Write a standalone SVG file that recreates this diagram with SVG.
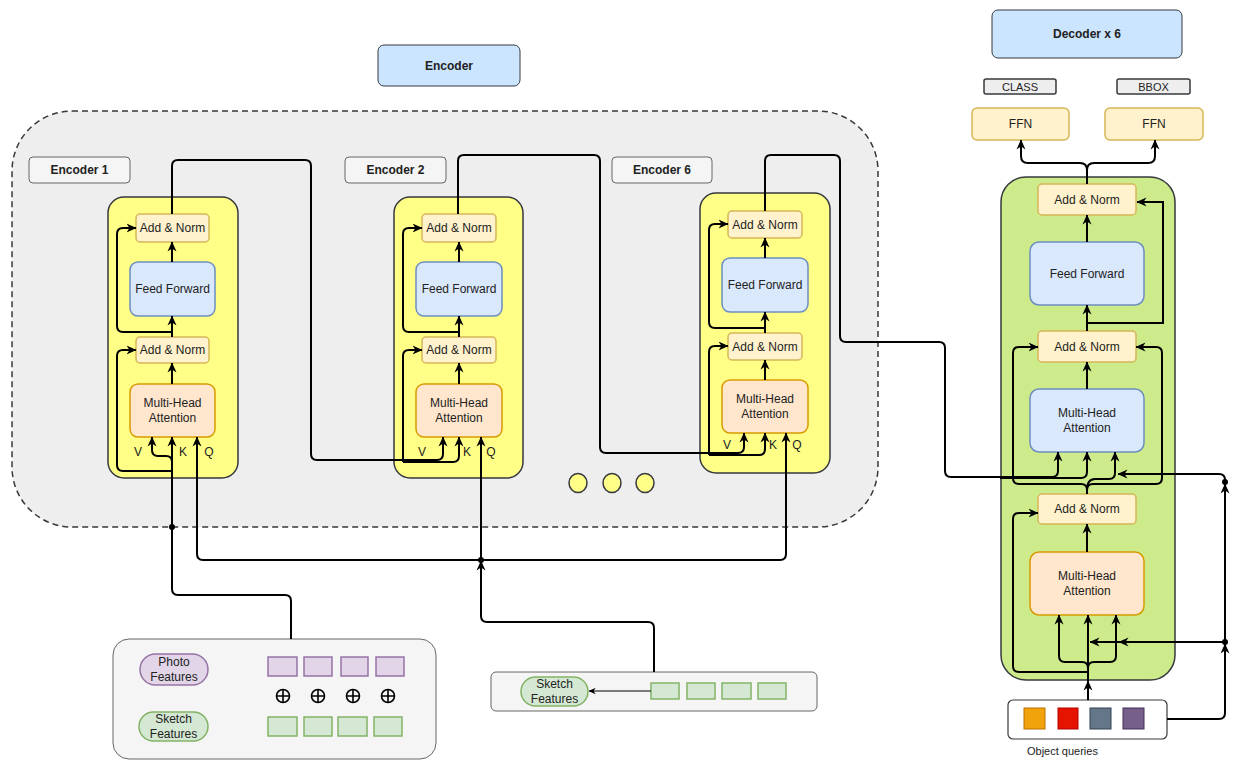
<svg xmlns="http://www.w3.org/2000/svg" width="1246" height="775" viewBox="0 0 1246 775">
<defs>
<marker id="a" viewBox="0 0 10 10" refX="9.5" refY="5" markerWidth="10" markerHeight="10" orient="auto" markerUnits="userSpaceOnUse"><path d="M0,0.5 L10,5 L0,9.5 L3,5 Z" fill="#000"/></marker>
<marker id="s" viewBox="0 0 10 10" refX="9.5" refY="5" markerWidth="7" markerHeight="7" orient="auto" markerUnits="userSpaceOnUse"><path d="M0,0.5 L10,5 L0,9.5 L3,5 Z" fill="#000"/></marker>
<style>
.t{font-family:"Liberation Sans",Arial,sans-serif;font-size:12px;fill:#222;text-anchor:middle;dominant-baseline:central}
.b{font-weight:bold}
.c{fill:none;stroke:#000;stroke-width:2;marker-end:url(#a)}
.n{fill:none;stroke:#000;stroke-width:2}
.an{fill:#fff2cc;stroke:#d6b656;stroke-width:1.5}
.ff{fill:#dae8fc;stroke:#6c8ebf;stroke-width:1.5}
.mh{fill:#ffe6cc;stroke:#d79b00;stroke-width:1.5}
.yl{fill:#ffff88;stroke:#36393d;stroke-width:1.5}
.lb{fill:#f5f5f5;stroke:#666;stroke-width:1}
.pp{fill:#e1d5e7;stroke:#9673a6;stroke-width:1.5}
.gg{fill:#d5e8d4;stroke:#82b366;stroke-width:1.5}
.dot{fill:#000}
</style>
</defs>

<!-- containers -->
<g id="encoder-container"><rect x="12" y="111" width="866" height="416" rx="60" fill="#eeeeee" stroke="#36393d" stroke-width="1.5" stroke-dasharray="6 4"/></g>
<g id="encoder-title"><rect x="378" y="45" width="142" height="41" rx="6" fill="#cce5ff" stroke="#36393d"/><text class="t b" x="449" y="66">Encoder</text></g>
<g id="decoder-title"><rect x="992" y="10" width="190" height="48" rx="6" fill="#cce5ff" stroke="#36393d"/><text class="t b" x="1087" y="34">Decoder x 6</text></g>
<g id="label-enc1"><rect class="lb" x="29" y="157" width="101" height="26" rx="4"/><text class="t b" x="79.5" y="170" fill="#333">Encoder 1</text></g>
<g id="label-enc2"><rect class="lb" x="345" y="157" width="101" height="26" rx="4"/><text class="t b" x="395.5" y="170">Encoder 2</text></g>
<g id="label-enc6"><rect class="lb" x="612" y="157" width="100" height="26" rx="4"/><text class="t b" x="662" y="170">Encoder 6</text></g>

<!-- encoder 1 -->
<g id="enc1"><rect class="yl" x="108" y="197" width="130" height="281" rx="16"/></g>
<g id="enc1-an2"><rect class="an" x="136" y="214" width="73" height="28" rx="4"/><text class="t" x="172.5" y="228">Add &amp; Norm</text></g>
<g id="enc1-ff"><rect class="ff" x="130" y="262" width="85" height="54" rx="8"/><text class="t" x="172.5" y="289">Feed Forward</text></g>
<g id="enc1-an1"><rect class="an" x="136" y="337" width="73" height="26" rx="4"/><text class="t" x="172.5" y="350">Add &amp; Norm</text></g>
<g id="enc1-mha"><rect class="mh" x="130" y="384" width="85" height="53" rx="8"/><text class="t" x="172.5" y="403">Multi-Head</text><text class="t" x="172.5" y="418">Attention</text></g>
<g id="enc1-vkq"><text class="t" x="138" y="452">V</text><text class="t" x="183" y="452">K</text><text class="t" x="209" y="452">Q</text></g>

<!-- encoder 2 -->
<g id="enc2"><rect class="yl" x="394" y="197" width="129" height="281" rx="16"/></g>
<g id="enc2-an2"><rect class="an" x="422" y="214" width="74" height="28" rx="4"/><text class="t" x="459" y="228">Add &amp; Norm</text></g>
<g id="enc2-ff"><rect class="ff" x="416" y="262" width="86" height="54" rx="8"/><text class="t" x="459" y="289">Feed Forward</text></g>
<g id="enc2-an1"><rect class="an" x="422" y="337" width="74" height="26" rx="4"/><text class="t" x="459" y="350">Add &amp; Norm</text></g>
<g id="enc2-mha"><rect class="mh" x="416" y="384" width="86" height="53" rx="8"/><text class="t" x="459" y="403">Multi-Head</text><text class="t" x="459" y="418">Attention</text></g>
<g id="enc2-vkq"><text class="t" x="422" y="452">V</text><text class="t" x="467" y="452">K</text><text class="t" x="491" y="452">Q</text></g>

<!-- encoder 6 -->
<g id="enc6"><rect class="yl" x="700" y="193" width="130" height="280" rx="16"/></g>
<g id="enc6-an2"><rect class="an" x="728" y="211" width="74" height="27" rx="4"/><text class="t" x="765" y="224.5">Add &amp; Norm</text></g>
<g id="enc6-ff"><rect class="ff" x="722" y="258" width="86" height="54" rx="8"/><text class="t" x="765" y="285">Feed Forward</text></g>
<g id="enc6-an1"><rect class="an" x="728" y="333" width="74" height="27" rx="4"/><text class="t" x="765" y="346.5">Add &amp; Norm</text></g>
<g id="enc6-mha"><rect class="mh" x="722" y="380" width="86" height="53" rx="8"/><text class="t" x="765" y="399">Multi-Head</text><text class="t" x="765" y="414">Attention</text></g>
<g id="enc6-vkq"><text class="t" x="727" y="445">V</text><text class="t" x="773" y="445">K</text><text class="t" x="797" y="445">Q</text></g>

<g id="ellipsis"><ellipse class="yl" cx="578" cy="483" rx="9" ry="9.5" stroke-width="1"/><ellipse class="yl" cx="612" cy="483" rx="9" ry="9.5" stroke-width="1"/><ellipse class="yl" cx="645" cy="483" rx="9" ry="9.5" stroke-width="1"/></g>

<!-- decoder -->
<g id="decoder"><rect x="1001" y="177" width="174" height="503" rx="25" fill="#cdeb8b" stroke="#36393d" stroke-width="1.5"/></g>
<g id="dec-an3"><rect class="an" x="1038" y="184" width="98" height="31" rx="4"/><text class="t" x="1087" y="199.5">Add &amp; Norm</text></g>
<g id="dec-ff"><rect class="ff" x="1030" y="242" width="114" height="63" rx="9"/><text class="t" x="1087" y="273.5">Feed Forward</text></g>
<g id="dec-an2"><rect class="an" x="1038" y="331" width="98" height="31" rx="4"/><text class="t" x="1087" y="346.5">Add &amp; Norm</text></g>
<g id="dec-mha2"><rect class="ff" x="1030" y="389" width="114" height="63" rx="9"/><text class="t" x="1087" y="413">Multi-Head</text><text class="t" x="1087" y="428">Attention</text></g>
<g id="dec-an1"><rect class="an" x="1038" y="494" width="98" height="30" rx="4"/><text class="t" x="1087" y="509">Add &amp; Norm</text></g>
<g id="dec-mha1"><rect class="mh" x="1030" y="552" width="114" height="63" rx="9"/><text class="t" x="1087" y="576">Multi-Head</text><text class="t" x="1087" y="591">Attention</text></g>
<g id="ffn-class"><rect class="an" x="972" y="108" width="97" height="32" rx="5"/><text class="t" x="1020.5" y="124">FFN</text></g>
<g id="ffn-bbox"><rect class="an" x="1105" y="108" width="98" height="32" rx="5"/><text class="t" x="1154" y="124">FFN</text></g>
<g id="class"><rect x="984" y="79" width="72" height="15" rx="2" fill="#eeeeee" stroke="#36393d" stroke-width="1.5"/><text class="t" x="1020" y="86.5" style="font-size:11px">CLASS</text></g>
<g id="bbox"><rect x="1117" y="79" width="73" height="15" rx="2" fill="#eeeeee" stroke="#36393d" stroke-width="1.5"/><text class="t" x="1153.5" y="86.5" style="font-size:11px">BBOX</text></g>
<g id="object-queries"><rect x="1008" y="700" width="159" height="39" rx="5" fill="#fff" stroke="#36393d" stroke-width="1.2"/>
<rect x="1024" y="708" width="21" height="21" fill="#f0a30a" stroke="#bd7000"/>
<rect x="1058" y="708" width="20" height="21" fill="#e51400" stroke="#b20000"/>
<rect x="1090" y="708" width="21" height="21" fill="#647687" stroke="#314354"/>
<rect x="1123" y="708" width="21" height="21" fill="#76608a" stroke="#432d57"/>
<text class="t" x="1027" y="751" style="text-anchor:start;font-size:11px">Object queries</text></g>

<!-- features -->
<g id="photo-sketch-box"><rect class="lb" x="113" y="639" width="323" height="120" rx="16"/></g>
<g id="photo-features"><rect class="pp" x="140" y="654" width="68" height="31" rx="15.5"/><text class="t" x="174" y="662">Photo</text><text class="t" x="174" y="677">Features</text></g>
<g id="sketch-features-1"><rect class="gg" x="139" y="712" width="69" height="29" rx="14.5"/><text class="t" x="173.5" y="719">Sketch</text><text class="t" x="173.5" y="734">Features</text></g>
<g id="photo-tokens"><rect class="pp" x="268" y="657" width="29" height="19"/><rect class="pp" x="304" y="657" width="28" height="19"/><rect class="pp" x="341" y="657" width="27" height="19"/><rect class="pp" x="376" y="657" width="28" height="19"/></g>
<g id="plus-ops" fill="none" stroke="#000" stroke-width="1.6">
<circle cx="283" cy="696" r="6.5"/><path d="M276.5,696 H289.5 M283,689.5 V702.5"/>
<circle cx="318" cy="696" r="6.5"/><path d="M311.5,696 H324.5 M318,689.5 V702.5"/>
<circle cx="353" cy="696" r="6.5"/><path d="M346.5,696 H359.5 M353,689.5 V702.5"/>
<circle cx="388" cy="696" r="6.5"/><path d="M381.5,696 H394.5 M388,689.5 V702.5"/>
</g>
<g id="sketch-tokens-1"><rect class="gg" x="268" y="717" width="29" height="19"/><rect class="gg" x="304" y="717" width="28" height="19"/><rect class="gg" x="338" y="717" width="29" height="19"/><rect class="gg" x="374" y="717" width="28" height="19"/></g>

<g id="sketch-box"><rect class="lb" x="491" y="672" width="326" height="39" rx="5"/></g>
<g id="sketch-features-2"><rect class="gg" x="521" y="677" width="67" height="29" rx="14.5"/><text class="t" x="554.5" y="684">Sketch</text><text class="t" x="554.5" y="699">Features</text></g>
<g id="sketch-tokens-2"><rect class="gg" x="651" y="683" width="28" height="16"/><rect class="gg" x="687" y="683" width="28" height="16"/><rect class="gg" x="722" y="683" width="29" height="16"/><rect class="gg" x="758" y="683" width="28" height="16"/></g>

<!-- connectors -->
<g id="connectors">
<!-- encoder 1 internal -->
<path class="c" d="M172,384 V363"/>
<path class="c" d="M172,337 V316"/>
<path class="c" d="M172,262 V242"/>
<path class="c" d="M172,332 H123 Q117,332 117,326 V234 Q117,228 123,228 H136"/>
<path class="c" d="M172,471 H123 Q117,471 117,465 V356 Q117,350 123,350 H136"/>
<path class="c" d="M172,468 V462 Q172,456 166,456 H158 Q152,456 152,450 V437"/>
<path class="c" d="M291,639 V601 Q291,595 285,595 H178 Q172,595 172,589 V437"/>
<circle class="dot" cx="172" cy="527" r="3"/>
<!-- Q lines -->
<path class="c" d="M481,560 H203 Q197,560 197,554 V437"/>
<path class="c" d="M481,560 H780 Q786,560 786,554 V433"/>
<path class="c" d="M481,560 V437"/>
<path class="c" d="M654,672 V628 Q654,622 648,622 H487 Q481,622 481,616 V561"/>
<circle class="dot" cx="481" cy="560" r="3"/>
<path fill="none" stroke="#000" stroke-width="1" marker-end="url(#s)" d="M651,691 H589"/>
<!-- enc1 -> enc2 -->
<path class="c" d="M172,214 V166 Q172,160 178,160 H305 Q311,160 311,166 V454 Q311,460 317,460 H437 Q443,460 443,454 V437"/>
<path class="c" d="M403,462 H453 Q459,462 459,456 V437"/>
<path class="c" d="M403,462 V356 Q403,350 409,350 H422"/>
<path class="c" d="M459,384 V363"/>
<path class="c" d="M459,337 V316"/>
<path class="c" d="M459,262 V242"/>
<path class="c" d="M459,332 H409 Q403,332 403,326 V234 Q403,228 409,228 H422"/>
<!-- enc2 -> enc6 -->
<path class="c" d="M458,214 V161 Q458,155 464,155 H594 Q600,155 600,161 V447 Q600,453 606,453 H738 Q744,453 744,447 V433"/>
<path class="c" d="M709,455 H759 Q765,455 765,449 V433"/>
<path class="c" d="M709,455 V352 Q709,346 715,346 H728"/>
<path class="c" d="M765,380 V360"/>
<path class="c" d="M765,333 V312"/>
<path class="c" d="M765,258 V238"/>
<path class="c" d="M765,328 H715 Q709,328 709,322 V230 Q709,224 715,224 H728"/>
<!-- enc6 -> decoder -->
<path class="c" d="M765,211 V161 Q765,155 771,155 H834 Q840,155 840,161 V336 Q840,342 846,342 H939 Q945,342 945,348 V471 Q945,477 951,477 H1052 Q1058,477 1058,471 V452"/>
<path class="c" d="M1000,478 H1081 Q1087,478 1087,472 V452"/>
<!-- decoder internal -->
<path class="c" d="M1088,700 V681"/>
<path class="c" d="M1088,681 V615"/>
<path class="c" d="M1088,668 Q1088,662 1082,662 H1065 Q1059,662 1059,656 V615"/>
<path class="c" d="M1088,668 Q1088,662 1094,662 H1110 Q1116,662 1116,656 V615"/>
<path class="c" d="M1088,672 H1019 Q1013,672 1013,666 V519 Q1013,513 1019,513 H1038"/>
<path class="c" d="M1225,642 H1119"/>
<path class="c" d="M1119,642 H1090"/>
<path class="c" d="M1087,552 V524"/>
<path class="c" d="M1087,494 V490 Q1087,484 1081,484 H1019 Q1013,484 1013,478 V353 Q1013,347 1019,347 H1038"/>
<path class="c" d="M1087,494 V490 Q1087,484 1093,484 H1156 Q1162,484 1162,478 V353 Q1162,347 1156,347 H1136"/>
<path class="c" d="M1087,490 Q1087,479 1095,479 H1109 Q1115,479 1115,473 V452"/>
<path class="c" d="M1225,482 V480 Q1225,474 1219,474 H1118"/>
<path class="c" d="M1167,719 H1219 Q1225,719 1225,713 V644"/>
<path class="c" d="M1225,642 V484"/>
<circle class="dot" cx="1225" cy="642" r="3"/>
<circle class="dot" cx="1225" cy="482" r="3"/>
<path class="c" d="M1087,389 V362"/>
<path class="c" d="M1087,331 V305"/>
<path class="c" d="M1087,323 H1163 V202 H1137"/>
<path class="c" d="M1087,242 V215"/>
<path class="c" d="M1087,184 V170 Q1087,163 1080,163 H1028 Q1021,163 1021,156 V140"/>
<path class="c" d="M1087,170 Q1087,163 1094,163 H1148 Q1155,163 1155,156 V140"/>
</g>
</svg>
